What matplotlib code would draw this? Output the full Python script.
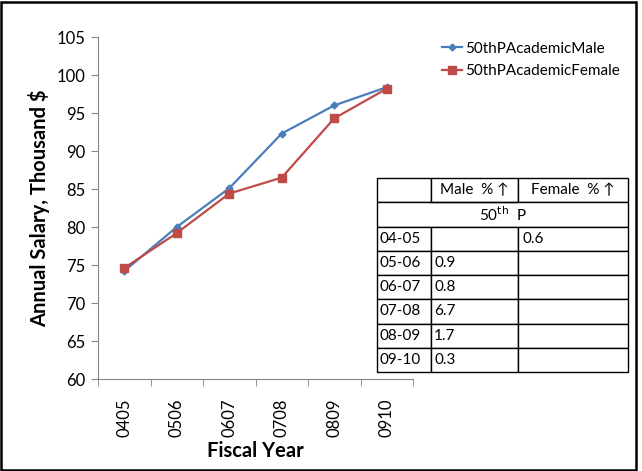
import matplotlib
matplotlib.use("Agg")
import matplotlib.pyplot as plt
from matplotlib.patches import Rectangle

plt.rcParams['font.family'] = ['Lato', 'DejaVu Sans']

# salary medians (thousand $) by fiscal year
years = ['0405', '0506', '0607', '0708', '0809', '0910']
male = [74.2, 80.0, 85.1, 92.3, 96.0, 98.4]
female = [74.6, 79.2, 84.4, 86.5, 94.3, 98.2]

# yearly % increase table
row_labels = ['04-05', '05-06', '06-07', '07-08', '08-09', '09-10']
male_pct = ['', '0.9', '0.8', '6.7', '1.7', '0.3']
female_pct = ['0.6', '', '', '', '', '']

blue = '#4A7EBB'
red = '#BE4B48'
axis_gray = '#868686'

fig = plt.figure(figsize=(6.42, 4.71), dpi=100)
ax = fig.add_axes([98/642, 1-379/471, (413-98)/642, (379-37)/471])

x = range(len(years))
ax.plot(x, male, color=blue, lw=1.6, marker='D', ms=3.5, label='50thPAcademicMale')
ax.plot(x, female, color=red, lw=1.6, marker='s', ms=6, label='50thPAcademicFemale')

ax.set_xlim(-0.5, len(years) - 0.5)
ax.set_ylim(60, 105)
ax.set_yticks(range(60, 106, 5))
ax.set_xticks(list(x))
ax.set_xticklabels(years, rotation=90)
ax.set_xticks([i - 0.5 for i in range(len(years) + 1)], minor=True)
ax.tick_params(axis='x', which='major', length=0, pad=14, labelsize=12)
ax.tick_params(axis='x', which='minor', length=5, color=axis_gray)
ax.tick_params(axis='y', length=5, color=axis_gray, labelsize=12, pad=4)
for s in ['top', 'right']:
    ax.spines[s].set_visible(False)
for s in ['left', 'bottom']:
    ax.spines[s].set_color(axis_gray)

ax.set_xlabel('Fiscal Year', fontsize=14.5, fontweight='bold', labelpad=3)
ax.set_ylabel('Annual Salary, Thousand $', fontsize=14.5, fontweight='bold', labelpad=5)

ax.legend(loc='upper left', bbox_to_anchor=(428/642, 1-28/471), bbox_transform=fig.transFigure,
          frameon=False, fontsize=11, handlelength=1.3, handletextpad=0.2, labelspacing=0.55)

# table of yearly increases
tab_ax = fig.add_axes([377/642, 1-372/471, (628-377)/642, (372-178)/471])
tab_ax.axis('off')
cells = [['', 'Male  % \u2191', 'Female  % \u2191'], ['', '', '']]
cells += [[r, m, f] for r, m, f in zip(row_labels, male_pct, female_pct)]
tbl = tab_ax.table(cellText=cells, bbox=[0, 0, 1, 1],
                   colWidths=[53.7/251, 87/251, 110.3/251], cellLoc='left')
tbl.auto_set_font_size(False)
for (r, c), cell in tbl.get_celld().items():
    cell.set_linewidth(1.0)
    cell.set_edgecolor('black')
    cell.get_text().set_fontsize(11)
    cell.PAD = 0.04
    if r == 0 and c > 0:
        cell.get_text().set_horizontalalignment('center')
        cell.PAD = 0.0
    if r == 1:
        cell.visible_edges = {0: 'BTL', 1: 'BT', 2: 'BTR'}[c]
tab_ax.text(0.5, 1 - 1.5/8, '50$^{\\mathrm{th}}$  P', transform=tab_ax.transAxes,
            ha='center', va='center', fontsize=11)

fig.patches.append(Rectangle((0.002, 0.003), 0.988, 0.993, transform=fig.transFigure,
                             fill=False, edgecolor='black', lw=1.8))

fig.savefig('out.png', dpi=100)
